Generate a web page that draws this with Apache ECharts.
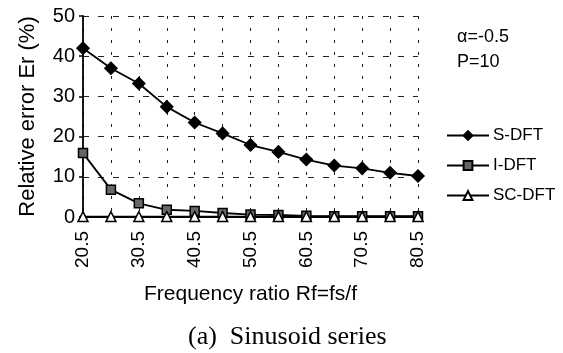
<!DOCTYPE html>
<html>
<head>
<meta charset="utf-8">
<script src="https://cdn.jsdelivr.net/npm/echarts@6/dist/echarts.min.js"></script>
<style>
	html, body { margin: 0; padding: 0; background: #fff; }
	#chart { width: 563px; height: 353px; }
</style>
</head>
<body>
<div id="chart"></div>
<script>
// frequency ratio Rf = fs/f
const ratios = ['20.5', '25.5', '30.5', '35.5', '40.5', '45.5', '50.5', '55.5', '60.5', '65.5', '70.5', '75.5', '80.5'];
const sDft = [42, 37, 33.2, 27.4, 23.5, 20.8, 17.9, 16.2, 14.3, 12.8, 12.1, 11.0, 10.2];
const iDft = [15.9, 6.8, 3.4, 1.8, 1.5, 1.0, 0.6, 0.5, 0.3, 0.2, 0.2, 0.2, 0.2];
const scDft = [0.1, 0.1, 0.1, 0.1, 0.1, 0.1, 0.1, 0.1, 0.1, 0.1, 0.1, 0.1, 0.1];

const font = '"Liberation Sans", Arial, sans-serif';
const chart = echarts.init(document.getElementById('chart'));

const lineSeries = (name, data, symbol, fill, size) => ({
	name,
	type: 'line',
	data,
	symbol,
	symbolSize: size,
	lineStyle: { color: '#000', width: 1.8 },
	itemStyle: { color: fill, borderColor: '#000', borderWidth: 1.5 },
	emphasis: { disabled: true },
	animation: false,
});

const option = {
	animation: false,
	grid: { left: 83, right: 145, top: 16, bottom: 136 },
	xAxis: {
		type: 'category',
		data: ratios,
		boundaryGap: false,
		name: 'Frequency ratio Rf=fs/f',
		nameLocation: 'middle',
		nameGap: 67,
		nameTextStyle: { fontFamily: font, fontSize: 21, color: '#000', verticalAlign: 'top' },
		axisLine: { lineStyle: { color: '#000', width: 1.8 } },
		axisTick: { show: false },
		axisLabel: { interval: 1, rotate: 90, fontFamily: font, fontSize: 19, color: '#000', margin: 14 },
		splitLine: { show: true, interval: 0, lineStyle: { color: '#222', type: [3, 9], width: 1 } },
	},
	yAxis: {
		type: 'value',
		min: 0,
		max: 50,
		interval: 10,
		name: 'Relative error Er (%)',
		nameLocation: 'middle',
		nameGap: 44,
		nameTextStyle: { fontFamily: font, fontSize: 22, color: '#000' },
		axisLine: { show: true, lineStyle: { color: '#000', width: 1.8 } },
		axisTick: { show: true, length: 4, lineStyle: { color: '#000', width: 1.5 } },
		axisLabel: { fontFamily: font, fontSize: 20, color: '#000', margin: 8 },
		splitLine: { show: true, lineStyle: { color: '#222', type: [6, 9], width: 1 } },
	},
	legend: {
		orient: 'vertical',
		left: 441,
		top: 122,
		itemWidth: 42,
		itemHeight: 11,
		itemGap: 13,
		textStyle: { fontFamily: font, fontSize: 17, lineHeight: 17, color: '#000', padding: [0, 0, 0, -1] },
		data: ['S-DFT', 'I-DFT', 'SC-DFT'],
	},
	graphic: [
		{ type: 'text', left: 457, top: 28, style: { text: 'α=-0.5', font: '18px ' + font, fill: '#000' } },
		{ type: 'text', left: 457, top: 53, style: { text: 'P=10', font: '18px ' + font, fill: '#000' } },
		{ type: 'text', left: 188, top: 324, style: { text: '(a)  Sinusoid series', font: '26px "Liberation Serif", "Times New Roman", serif', fill: '#000' } },
	],
	series: [
		lineSeries('S-DFT', sDft, 'diamond', '#000', 12),
		lineSeries('I-DFT', iDft, 'rect', '#666', 9),
		lineSeries('SC-DFT', scDft, 'triangle', '#fff', 10),
	],
};

chart.setOption(option);
</script>
</body>
</html>
